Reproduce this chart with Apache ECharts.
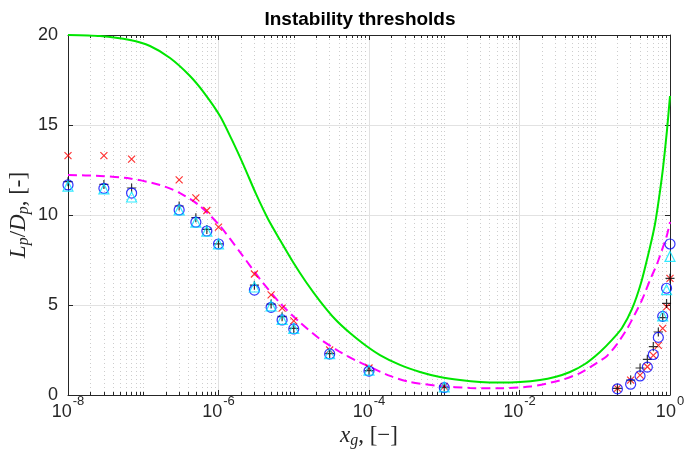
<!DOCTYPE html>
<html>
<head>
<meta charset="utf-8">
<script src="https://cdn.jsdelivr.net/npm/echarts@6/dist/echarts.min.js"></script>
<style>html,body{margin:0;padding:0;background:#fff}#c{width:686px;height:455px}</style>
</head>
<body>
<div id="c"></div>
<script>
// ---- data ----
const xMarkers = [1e-8,3e-8,7e-8,3e-7,5e-7,7e-7,1e-6,3e-6,5e-6,7e-6,1e-5,3e-5,1e-4,1e-3,0.2,0.3,0.4,0.5,0.6,0.7,0.8,0.9,1.0];
const redX   = [13.3,13.3,13.1,11.95,10.95,10.25,9.33,6.72,5.56,4.83,4.12,2.5,1.5,0.48, 0.37,0.83,1.1,1.57,2.2,2.76,3.7,4.9,6.48];
const blueO  = [11.67,11.48,11.22,10.28,9.6,9.11,8.39,5.83,4.87,4.17,3.67,2.28,1.33,0.41, 0.34,0.6,1.06,1.55,2.25,3.2,4.37,5.93,8.39];
const blackP = [11.85,11.7,11.5,10.5,9.85,9.2,8.4,6.1,5.05,4.35,3.7,2.3,1.35,0.43, 0.37,0.83,1.5,1.98,2.69,3.5,4.3,5.09,6.48];
const triX   = [1e-8,3e-8,7e-8,3e-7,5e-7,7e-7,1e-6,3e-6,5e-6,7e-6,1e-5,3e-5,1e-4,1e-3,0.8,0.9,1.0];
const cyanT  = [11.6,11.45,11.0,10.28,9.6,9.1,8.4,6.0,4.95,4.2,3.7,2.3,1.38,0.45, 4.4,5.85,7.7];

const greenX = [1e-8,2.66e-8,6.67e-8,1.23e-7,2.27e-7,4.18e-7,6.62e-7,1.047e-6,1.51e-6,2.18e-6,3.15e-6,4.55e-6,6.57e-6,9.77e-6,1.455e-5,2.23e-5,3.53e-5,5.59e-5,8.85e-5,1.40e-4,2.58e-4,4.76e-4,8.78e-4,1.62e-3,2.99e-3,5.51e-3,1.015e-2,1.87e-2,2.96e-2,4.69e-2,7.42e-2,0.1174,0.1695,0.230,0.3126,0.4117,0.5424,0.632,0.7143,0.8072,0.9124,1];
const greenY = [20,19.94,19.72,19.39,18.72,17.72,16.72,15.5,14.17,12.72,11.17,9.78,8.61,7.39,6.28,5.22,4.22,3.44,2.78,2.22,1.67,1.28,1.0,0.83,0.72,0.69,0.72,0.83,1.0,1.28,1.72,2.39,3.06,3.72,4.78,6.22,8.22,9.5,10.94,12.61,14.72,16.61];
const magX = [1e-8,2.66e-8,6.67e-8,1.67e-7,3.08e-7,5.68e-7,1.047e-6,1.93e-6,3.56e-6,6.57e-6,1.211e-5,2.23e-5,4.12e-5,6.52e-5,1.031e-4,1.90e-4,3.51e-4,8.78e-4,2.20e-3,5.51e-3,1.379e-2,3.45e-2,6.37e-2,0.1008,0.1455,0.1976,0.2683,0.3426,0.4245,0.5424,0.672,0.783,0.9124,1];
const magY = [12.22,12.17,12.03,11.67,11.22,10.5,9.39,7.94,6.44,5.11,4.03,3.11,2.39,1.94,1.56,1.06,0.72,0.5,0.39,0.37,0.47,0.81,1.22,1.72,2.17,2.83,3.67,4.5,5.28,6.39,7.28,8.06,8.89,9.61];

const xMajor = [1e-8,1e-6,1e-4,1e-2,1];
// minor tick positions (2..9 per decade, plus unlabeled decades)
const xMinor = [];
for (let d = -8; d < 0; d++) {
  for (let k = 1; k <= 9; k++) {
    if (k === 1 && (d % 2 === 0)) continue;
    xMinor.push(k * Math.pow(10, d));
  }
}

const zip = (xs, ys) => xs.map((x, i) => [x, ys[i]]);
const AX = '#262626';
const FONT = 'Liberation Sans';
const SERIF = 'Liberation Serif';

const baseLog = {type: 'log', logBase: 10, min: 1e-8, max: 1, gridIndex: 0};
const mathRich = {
  i: {fontFamily: SERIF, fontStyle: 'italic', fontSize: 23, color: AX},
  sub: {fontFamily: SERIF, fontStyle: 'italic', fontSize: 16, color: AX, padding: [10, 0, 0, 0]},
  n: {fontFamily: SERIF, fontSize: 23, color: AX}
};
const chart = echarts.init(document.getElementById('c'), null, {renderer: 'canvas'});
chart.setOption({
  animation: false,
  backgroundColor: '#fff',
  title: {
    text: 'Instability thresholds', left: 355, top: 5, textAlign: 'center',
    textStyle: {fontFamily: FONT, fontSize: 19, fontWeight: 'bold', color: '#000'}
  },
  grid: {left: 68, right: 16, top: 35, bottom: 60, containLabel: false, outerBoundsMode: 'none'},
  xAxis: [
    Object.assign({}, baseLog, {
      position: 'bottom',
      axisLine: {show: true, lineStyle: {color: AX, width: 1}},
      axisTick: {show: true, inside: true, length: 5, customValues: xMajor, lineStyle: {color: AX}},
      splitLine: {show: true, lineStyle: {color: '#e2e2e2', width: 1}},
      axisLabel: {
        show: true, margin: 0, color: AX, customValues: xMajor,
        formatter: v => '{b|10}{s|' + Math.round(Math.log10(v)) + '}',
        rich: {
          b: {fontFamily: FONT, fontSize: 18, color: AX, padding: [2, 0, 0, 0]},
          s: {fontFamily: FONT, fontSize: 13, color: AX, padding: [0, 0, 19, 1]}
        }
      },
      name: '{i|x}{sub|g}{n|, [\u2212]}', nameLocation: 'middle', nameGap: 28, nameMoveOverlap: false,
      nameTextStyle: {rich: mathRich}
    }),
    Object.assign({}, baseLog, {
      position: 'bottom',
      axisLine: {show: false},
      axisTick: {show: true, inside: true, length: 3, customValues: xMinor, lineStyle: {color: AX}},
      splitLine: {show: true, lineStyle: {color: '#cdcdcd', width: 1, type: [1, 3]}},
      axisLabel: {show: false}
    }),
    Object.assign({}, baseLog, {
      position: 'top',
      axisLine: {show: true, lineStyle: {color: AX, width: 1}},
      axisTick: {show: true, inside: true, length: 5, customValues: xMajor, lineStyle: {color: AX}},
      splitLine: {show: false},
      axisLabel: {show: false}
    }),
    Object.assign({}, baseLog, {
      position: 'top',
      axisLine: {show: false},
      axisTick: {show: true, inside: true, length: 3, customValues: xMinor, lineStyle: {color: AX}},
      splitLine: {show: false},
      axisLabel: {show: false}
    })
  ],
  yAxis: [
    {
      type: 'value', min: 0, max: 20, interval: 5, position: 'left',
      axisLine: {show: true, lineStyle: {color: AX}},
      axisTick: {show: true, inside: true, length: 5, lineStyle: {color: AX}},
      splitLine: {show: true, lineStyle: {color: '#e2e2e2'}},
      axisLabel: {show: true, margin: 10, color: AX, fontFamily: FONT, fontSize: 18,
                  formatter: v => String(v)},
      name: '{i|L}{sub|p}{n|/}{i|D}{sub|p}{n|, [-]}', nameLocation: 'middle', nameGap: 36, nameRotate: 90,
      nameMoveOverlap: false,
      nameTextStyle: {rich: mathRich}
    },
    {
      type: 'value', min: 0, max: 20, interval: 5, position: 'right',
      axisLine: {show: true, lineStyle: {color: AX}},
      axisTick: {show: true, inside: true, length: 5, lineStyle: {color: AX}},
      splitLine: {show: false},
      axisLabel: {show: false}
    }
  ],
  series: [
    {type: 'line', xAxisIndex: 0, yAxisIndex: 0, data: zip(greenX, greenY), smooth: 0.25, showSymbol: false,
     lineStyle: {color: '#00e600', width: 2}, z: 3},
    {type: 'line', xAxisIndex: 0, yAxisIndex: 0, data: zip(magX, magY), smooth: 0.25, showSymbol: false,
     lineStyle: {color: '#ff00ff', width: 2, type: [9, 5]}, z: 3},
    {type: 'scatter', data: zip(xMarkers, redX), symbol: 'path://M0,0L10,10M10,0L0,10', symbolSize: 7,
     itemStyle: {color: 'rgba(0,0,0,0)', borderColor: '#ff0000', borderWidth: 1.2}, z: 4},
    {type: 'scatter', data: zip(xMarkers, blackP), symbol: 'path://M5,0L5,10M0,5L10,5', symbolSize: 9,
     itemStyle: {color: 'rgba(0,0,0,0)', borderColor: '#000000', borderWidth: 1.2}, z: 4},
    {type: 'scatter', data: zip(xMarkers, blueO), symbol: 'circle', symbolSize: 10,
     itemStyle: {color: 'rgba(0,0,0,0)', borderColor: '#0000ff', borderWidth: 1.2}, z: 5},
    {type: 'scatter', data: zip(triX, cyanT), symbol: 'triangle', symbolSize: 10,
     itemStyle: {color: 'rgba(0,0,0,0)', borderColor: '#00e5ff', borderWidth: 1.2}, z: 5}
  ]
});
</script>
</body>
</html>
